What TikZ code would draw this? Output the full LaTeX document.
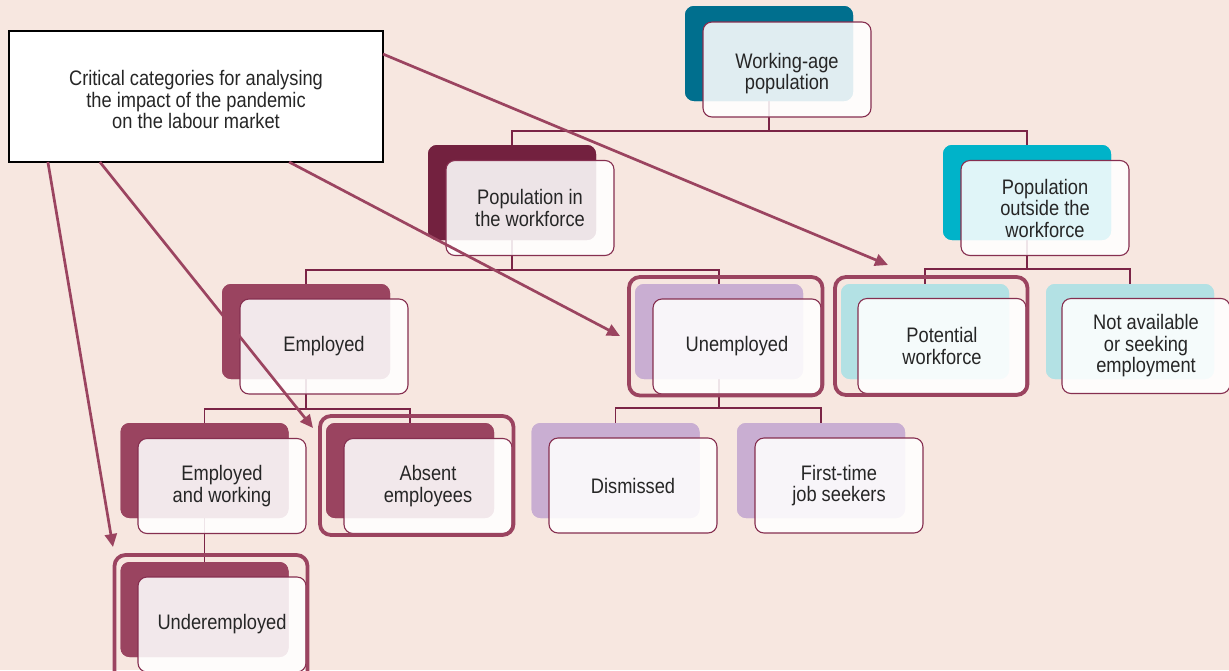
\documentclass[tikz,border=0pt]{standalone}
\usepackage{fontspec}
\setmainfont[FakeStretch=0.87]{Liberation Sans}
\usetikzlibrary{arrows.meta,calc}
\definecolor{bg}{HTML}{F7E7E0}
\definecolor{tealD}{HTML}{006F8E}
\definecolor{maroonD}{HTML}{73213F}
\definecolor{cyanM}{HTML}{00B3C9}
\definecolor{maroonM}{HTML}{9A4460}
\definecolor{lavender}{HTML}{C9AED2}
\definecolor{cyanL}{HTML}{B3E1E4}
\definecolor{treeline}{HTML}{7B2446}
\definecolor{frontline}{HTML}{862F50}
\definecolor{hlc}{HTML}{9B4460}
\definecolor{txt}{HTML}{262626}
\tikzset{
  back/.style={rounded corners=9pt, minimum width=168pt, minimum height=95pt, inner sep=0pt, outer sep=0pt},
  front/.style={draw=frontline, line width=1.1pt, fill=white, fill opacity=0.88, text opacity=1,
    rounded corners=9pt, minimum width=168pt, minimum height=95pt, align=center,
    font=\fontsize{21}{21.5}\selectfont, text=txt, inner sep=0pt, outer sep=0pt},
  tree/.style={draw=treeline, line width=1.2pt},
  hl/.style={draw=hlc, line width=3.8pt, rounded corners=11pt},
  arr/.style={draw=hlc, line width=2.7pt, -{Triangle[length=13pt,width=12pt]}},
  callout/.style={draw=black, line width=1.6pt, fill=white, minimum width=374pt, minimum height=131pt,
    align=center, font=\fontsize{21}{21.5}\selectfont, text=txt, inner sep=0pt, outer sep=0pt}
}
\begin{document}
\begin{tikzpicture}[x=1pt,y=-1pt]
\useasboundingbox (0,0) rectangle (1229,670);
\fill[bg] (0,0) rectangle (1229,670);

% back boxes
\node[back, fill=tealD]    (wapB) at (769,53.5) {};
\node[back, fill=maroonD]  (piwB) at (512,192.5) {};
\node[back, fill=cyanM]    (powB) at (1027,192.5) {};
\node[back, fill=maroonM]  (empB) at (306,331.5) {};
\node[back, fill=lavender] (unB)  at (719,331.5) {};
\node[back, fill=cyanL]    (potB) at (925,331.5) {};
\node[back, fill=cyanL]    (naB)  at (1130,331.5) {};
\node[back, fill=maroonM]  (ewB)  at (204.5,470.5) {};
\node[back, fill=maroonM]  (abB)  at (410,470.5) {};
\node[back, fill=lavender] (disB) at (615.5,470.5) {};
\node[back, fill=lavender] (ftB)  at (821,470.5) {};
\node[back, fill=maroonM]  (udB)  at (204.5,609.5) {};

% tree connectors
\draw[tree] (wapB.center) -- (wapB.center |- 0,131) -| (piwB.center);
\draw[tree] (wapB.center |- 0,131) -| (powB.center);
\draw[tree] (piwB.center) -- (piwB.center |- 0,270) -| (empB.center);
\draw[tree] (piwB.center |- 0,270) -| (unB.center);
\draw[tree] (powB.center) -- (powB.center |- 0,269) -| (potB.center);
\draw[tree] (powB.center |- 0,269) -| (naB.center);
\draw[tree] (empB.center) -- (empB.center |- 0,409) -| (ewB.center);
\draw[tree] (empB.center |- 0,409) -| (abB.center);
\draw[tree] (unB.center) -- (unB.center |- 0,408) -| (disB.center);
\draw[tree] (unB.center |- 0,408) -| (ftB.center);
\draw[tree] (ewB.center) -- (udB.center);

% redraw back boxes above connectors
\foreach \n/\c in {wapB/tealD,piwB/maroonD,powB/cyanM,empB/maroonM,unB/lavender,potB/cyanL,naB/cyanL,ewB/maroonM,abB/maroonM,disB/lavender,ftB/lavender,udB/maroonM}
  \fill[\c, rounded corners=9pt] (\n.north west) rectangle (\n.south east);

% front boxes
\node[front] (wap) at (787,69.5)   {\rule{0pt}{23.5pt}Working-age\\population};
\node[front] (piw) at (530,208)    {Population in\\the workforce};
\node[front] (pow) at (1045,208)   {Population\\outside the\\workforce};
\node[front] (emp) at (324,346.5)  {Employed};
\node[front] (un)  at (737,346.5)  {Unemployed};
\node[front] (pot) at (942,346)    {Potential\\workforce};
\node[front] (na)  at (1146,346)   {Not available\\or seeking\\employment};
\node[front] (ew)  at (222,486)    {Employed\\and working};
\node[front] (ab)  at (428,486)    {Absent\\employees};
\node[front] (dis) at (633,485.5)  {Dismissed};
\node[front] (ft)  at (839,485.5)  {First-time\\job seekers};
\node[front] (ud)  at (222,624.5)  {Underemployed};

% highlight frames
\draw[hl] ($(unB.north west)+(-6,-7)$) rectangle ($(un.south east)+(1.5,1.5)$);
\draw[hl] ($(potB.north west)+(-6,-7)$) rectangle ($(pot.south east)+(1.5,1.5)$);
\draw[hl] ($(abB.north west)+(-6,-7)$) rectangle ($(ab.south east)+(1.5,1.5)$);
\draw[hl] ($(udB.north west)+(-6,-7)$) rectangle ($(ud.south east)+(1.5,14)$);

% callout
\node[callout] (co) at (196,96.5) {\rule{0pt}{22pt}Critical categories for analysing\\the impact of the pandemic\\on the labour market};

% arrow targets
\coordinate (tPot) at (888,265);
\coordinate (tUn)  at (620,336);
\coordinate (tAb)  at (313,428);
\coordinate (tUd)  at (113,547);

\draw[arr] ($(co.north east)!0.176!(co.south east)$) -- (tPot);
\draw[arr] ($(co.south west)!0.749!(co.south east)$) -- (tUn);
\draw[arr] ($(co.south west)!0.243!(co.south east)$) -- (tAb);
\draw[arr] ($(co.south west)!0.104!(co.south east)$) -- (tUd);
\end{tikzpicture}
\end{document}
